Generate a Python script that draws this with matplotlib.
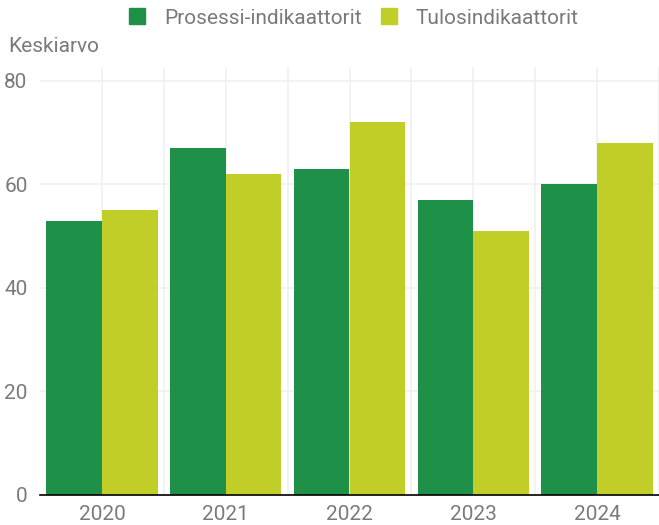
import matplotlib
matplotlib.use("Agg")
import matplotlib.pyplot as plt
import numpy as np
from matplotlib.patches import Patch

years = ["2020", "2021", "2022", "2023", "2024"]
prosessi = [53, 67, 63, 57, 60]
tulos = [55, 62, 72, 51, 68]
series_names = ["Prosessi-indikaattorit", "Tulosindikaattorit"]
y_ticks = [0, 20, 40, 60, 80]

green = "#1e9048"
yellow = "#c1ce27"
grey = "#7a7a7a"

plt.rcParams['font.family'] = ['Roboto', 'DejaVu Sans']

fig = plt.figure(figsize=(6.59, 5.25), dpi=100)
ax = fig.add_axes([40/659, 30/525, 619/659, 428/525])

x = np.arange(len(years))
w = 0.45
ax.bar(x - w/2, prosessi, width=w, color=green, zorder=3)
ax.bar(x + w/2, tulos, width=w, color=yellow, zorder=3)

ax.set_xlim(-0.5, len(years) - 0.5)
ax.set_ylim(0, 82.7)
ax.set_yticks(y_ticks)
ax.set_xticks(x)
ax.set_xticklabels(years)
ax.set_xticks(np.arange(-0.5, len(years), 1.0)[1:], minor=True)
ax.tick_params(axis='both', which='both', length=0, labelsize=15, colors=grey)
ax.tick_params(axis='x', pad=7)
ax.tick_params(axis='y', pad=9)
ax.grid(True, which='both', color='#f0f0f0', linewidth=1.2, zorder=0)
for s in ['top', 'right', 'left']:
    ax.spines[s].set_visible(False)
ax.spines['bottom'].set_color('black')
ax.spines['bottom'].set_linewidth(1.2)
ax.spines['bottom'].set_zorder(4)

fig.text(8/659, 1 - 47/525, "Keskiarvo", fontsize=15, color=grey, va='center', ha='left')

handles = [Patch(color=green), Patch(color=yellow)]
fig.legend(handles, series_names, loc='center', bbox_to_anchor=(0.537, 1 - 18/525),
           ncol=2, frameon=False, fontsize=15, labelcolor=grey,
           handlelength=0.8, handleheight=0.8, handletextpad=0.9, columnspacing=0.9)

fig.savefig("out.png", dpi=100)
